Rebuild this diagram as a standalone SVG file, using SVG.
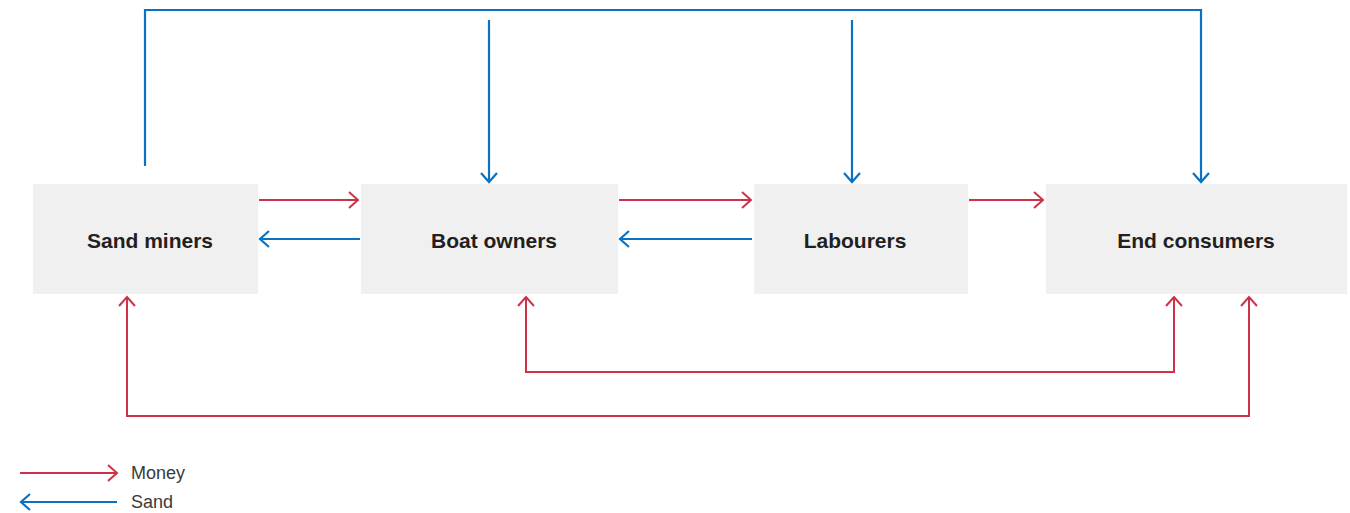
<svg xmlns="http://www.w3.org/2000/svg" width="1350" height="513" viewBox="0 0 1350 513">
<style>
.box{fill:#f1f0f0}
.lbl{font-family:"Liberation Sans",Arial,sans-serif;font-weight:bold;font-size:21px;fill:#231f20;text-anchor:middle}
.leg{font-family:"Liberation Sans",Arial,sans-serif;font-size:18px;fill:#3a3a3a}
.red{fill:none;stroke:#cc3348;stroke-width:2}
.blue{fill:none;stroke:#0a72c4;stroke-width:2.2}
</style>
<defs>
<marker id="ar" markerUnits="userSpaceOnUse" markerWidth="24" markerHeight="24" viewBox="-12 -12 24 24" refX="0" refY="0" orient="auto-start-reverse">
<path d="M-9,-8 L0,0 L-9,8" fill="none" stroke="#cc3348" stroke-width="2"/>
</marker>
<marker id="ab" markerUnits="userSpaceOnUse" markerWidth="24" markerHeight="24" viewBox="-12 -12 24 24" refX="0" refY="0" orient="auto-start-reverse">
<path d="M-9,-8 L0,0 L-9,8" fill="none" stroke="#0a72c4" stroke-width="2.2"/>
</marker>
</defs>
<g id="sand-miners"><rect class="box" x="33" y="184" width="225" height="110"/><text class="lbl" x="150" y="248">Sand miners</text></g>
<g id="boat-owners"><rect class="box" x="361" y="184" width="257" height="110"/><text class="lbl" x="494" y="248">Boat owners</text></g>
<g id="labourers"><rect class="box" x="754" y="184" width="214" height="110"/><text class="lbl" x="855" y="248">Labourers</text></g>
<g id="end-consumers"><rect class="box" x="1046" y="184" width="301" height="110"/><text class="lbl" x="1196" y="248">End consumers</text></g>
<g id="connectors">
<path class="blue" d="M145,166 V10 H1201 V182" marker-end="url(#ab)"/>
<path class="blue" d="M489,20 V182" marker-end="url(#ab)"/>
<path class="blue" d="M852,20 V182" marker-end="url(#ab)"/>
<path class="red" d="M259,200 H358" marker-end="url(#ar)"/>
<path class="red" d="M619,200 H751" marker-end="url(#ar)"/>
<path class="red" d="M969,200 H1043" marker-end="url(#ar)"/>
<path class="blue" d="M360,239 H260" marker-end="url(#ab)"/>
<path class="blue" d="M752,239 H620" marker-end="url(#ab)"/>
<path class="red" d="M526,297 V372 H1174 V297" marker-start="url(#ar)" marker-end="url(#ar)"/>
<path class="red" d="M127,297 V416 H1249 V297" marker-start="url(#ar)" marker-end="url(#ar)"/>
</g>
<g id="legend">
<path class="red" d="M20,473 H117" marker-end="url(#ar)"/>
<text class="leg" x="131" y="479">Money</text>
<path class="blue" d="M117,502 H21" marker-end="url(#ab)"/>
<text class="leg" x="131" y="508">Sand</text>
</g>
</svg>
